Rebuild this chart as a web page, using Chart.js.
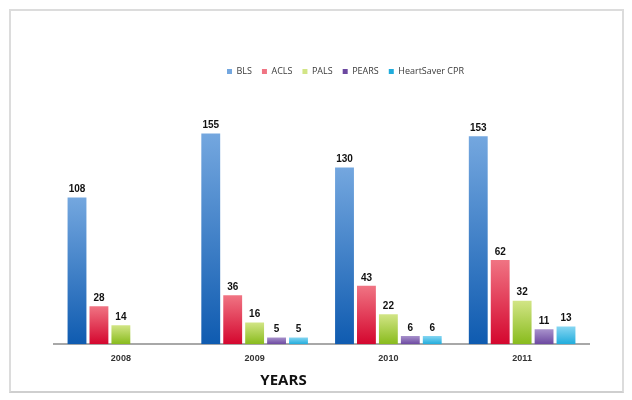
<!DOCTYPE html>
<html>
<head>
<meta charset="utf-8">
<script src="https://cdn.jsdelivr.net/npm/chart.js@4/dist/chart.umd.min.js"></script>
<style>
  body { margin: 0; background: #fff; }
  #wrap { position: relative; width: 632px; height: 400px; }
  #frame {
    position: absolute; left: 9px; top: 9px; width: 611px; height: 380px;
    border: 2px solid #dcdcdc; border-bottom-color: #cfcfcf; pointer-events: none;
  }
  #stage { position: absolute; left: 0; top: 0; }
</style>
</head>
<body>
<div id="wrap">
  <div id="frame"></div>
  <canvas id="stage" width="632" height="400"></canvas>
</div>
<script>
// course counts per year
var years = ['2008', '2009', '2010', '2011'];
var bls        = [108, 155, 130, 153];
var acls       = [28, 36, 43, 62];
var pals       = [14, 16, 22, 32];
var pears      = [null, 5, 6, 11];
var heartsaver = [null, 5, 6, 13];

var seriesNames = ['BLS', 'ACLS', 'PALS', 'PEARS', 'HeartSaver CPR'];
var seriesData = [bls, acls, pals, pears, heartsaver];
// [light top, dark bottom]
var seriesColors = [
    ['#74a7df', '#0f5bb0'],
    ['#f07483', '#d4062e'],
    ['#d2e586', '#88bb1c'],
    ['#a892cc', '#6c48a0'],
    ['#86d6f2', '#20acdc']
];

// vertical gradient for each bar, light at the top
function barGradient(i) {
    return function(ctx) {
        var chart = ctx.chart;
        if (!chart.chartArea || ctx.raw == null) {
            return seriesColors[i][1];
        }
        var y = chart.scales.y;
        var top = y.getPixelForValue(ctx.raw);
        var bottom = y.getPixelForValue(0);
        if (bottom - top < 1) {
            return seriesColors[i][1];
        }
        var g = chart.ctx.createLinearGradient(0, top, 0, bottom);
        g.addColorStop(0, seriesColors[i][0]);
        g.addColorStop(1, seriesColors[i][1]);
        return g;
    };
}

// value printed over each bar
var valueLabels = {
    id: 'valueLabels',
    afterDatasetsDraw: function(chart) {
        var ctx = chart.ctx;
        ctx.save();
        ctx.font = 'bold 10px "Liberation Sans", Arial, sans-serif';
        ctx.fillStyle = '#111';
        ctx.textAlign = 'center';
        ctx.textBaseline = 'bottom';
        chart.data.datasets.forEach(function(ds, i) {
            chart.getDatasetMeta(i).data.forEach(function(bar, j) {
                var v = ds.data[j];
                if (v == null) return;
                ctx.fillText(v, bar.x, bar.y - 3);
            });
        });
        ctx.restore();
    }
};

// legend sits a bit right of centre, the axis title a bit left
var nudgeBoxes = {
    id: 'nudgeBoxes',
    afterLayout: function(chart) {
        if (chart.legend) {
            chart.legend.left += 24;
            chart.legend.right += 24;
        }
        if (chart.titleBlock) {
            chart.titleBlock.left -= 38;
            chart.titleBlock.right -= 38;
        }
    }
};

var datasets = seriesNames.map(function(name, i) {
    return {
        label: name,
        data: seriesData[i],
        backgroundColor: barGradient(i),
        borderWidth: 0,
        categoryPercentage: 0.82,
        barPercentage: 0.86
    };
});

var chart = new Chart(document.getElementById('stage'), {
    type: 'bar',
    data: { labels: years, datasets: datasets },
    options: {
        responsive: false,
        animation: false,
        layout: { padding: { left: 54, right: 43, top: 57, bottom: 10 } },
        plugins: {
            legend: {
                display: true,
                position: 'top',
                labels: {
                    boxWidth: 5,
                    boxHeight: 5,
                    padding: 10,
                    color: '#3a3a3a',
                    font: { family: '"Open Sans", sans-serif', size: 9 }
                }
            },
            title: {
                display: true,
                position: 'bottom',
                text: 'YEARS',
                color: '#111',
                font: { family: '"Open Sans", sans-serif', size: 15, weight: 'bold' },
                padding: { top: 7, bottom: 0 }
            },
            tooltip: { enabled: false }
        },
        scales: {
            x: {
                grid: { display: false },
                border: { display: true, color: '#a8a8a8', width: 2 },
                ticks: {
                    color: '#333',
                    padding: 1,
                    font: { family: '"Liberation Sans", Arial, sans-serif', size: 9, weight: 'bold' }
                }
            },
            y: {
                display: false,
                min: 0,
                max: 190
            }
        }
    },
    plugins: [valueLabels, nudgeBoxes]
});
</script>
</body>
</html>
